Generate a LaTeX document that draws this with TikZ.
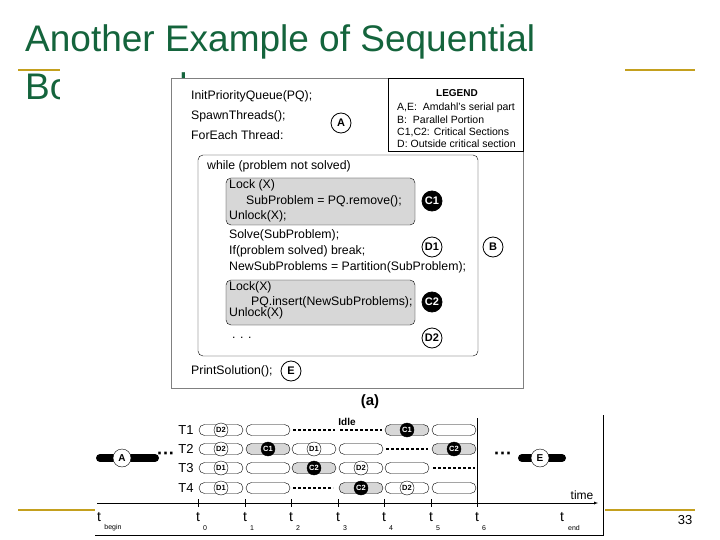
\documentclass[tikz,border=0pt]{standalone}
\usepackage{fontspec}
\setmainfont{Liberation Sans}
\definecolor{ttl}{RGB}{20,100,60}
\definecolor{gold}{RGB}{196,160,30}
\definecolor{sgray}{RGB}{215,215,215}
\begin{document}
\begin{tikzpicture}[x=1pt,y=-1pt,
  code/.style={anchor=west,inner sep=0pt,font=\fontsize{12.3}{12}\selectfont},
  leg/.style={anchor=west,inner sep=0pt,font=\fontsize{10.5}{10}\selectfont},
  lbl/.style={circle,draw,thick,minimum size=20pt,inner sep=0pt,font=\bfseries\fontsize{11}{11}\selectfont},
  blk/.style={lbl,fill=black,text=white},
  seg/.style={draw,rounded corners=5.5pt,minimum height=11pt,minimum width=44pt,inner sep=0pt},
  gseg/.style={seg,fill=sgray},
  sc/.style={circle,draw,fill=white,minimum size=14pt,inner sep=0pt,font=\bfseries\fontsize{7.5}{7}\selectfont},
  sb/.style={sc,fill=black,text=white},
  dsh/.style={line width=2pt,dash pattern=on 3pt off 2pt},
  gl/.style={gold,line width=2.5pt},
  tk/.style={inner sep=0pt,font=\fontsize{14}{14}\selectfont}]
\useasboundingbox (0,0) rectangle (720,540);
\fill[white] (0,0) rectangle (720,540);
% title
\node[anchor=base west,inner sep=0pt,text=ttl,font=\fontsize{37}{37}\selectfont] (title2) at (25,100) {Bottleneck};
\fill[white] (60,55) rectangle (171,115);
\node[anchor=base west,inner sep=0pt,text=ttl,font=\fontsize{37}{37}\selectfont] (title) at (25,52) {Another Example of Sequential};
\draw[gl] (18,70) -- (60,70);
\draw[gl] (625,70) -- (695,70);
\draw[gl] (18,510) -- (95,510);
\draw[gl] (605,510) -- (695,510);
\node[font=\fontsize{13}{13}\selectfont] (pg) at (685,520) {33};
% top picture
\fill[white] (171,78) rectangle (523,388);
\draw[gray] (171,78) rectangle (523,388);
\draw (388,78) rectangle (523,151);
\node[font=\bfseries\fontsize{10}{10}\selectfont] (legend) at (457,93) {LEGEND};
\node[leg] (l1) at (397,108) {A,E:\ \ Amdahl's serial part};
\node[leg] (l2) at (397,120) {B:\ \ Parallel Portion};
\node[leg] (l3) at (397,132) {C1,C2: Critical Sections};
\node[leg] (l4) at (397,144) {D: Outside critical section};
\node[code] (c1) at (191,96) {InitPriorityQueue(PQ);};
\node[code] (c2) at (191,116) {SpawnThreads();};
\node[code] (c3) at (191,135) {ForEach Thread:};
\node[lbl] (A) at (341,123) {A};
\draw[rounded corners=5pt] (198,155) rectangle (478,356);
\node[code] (w) at (207,166) {while (problem not solved)};
\draw[fill=sgray,rounded corners=5pt] (226,178) rectangle (415,225);
\draw[fill=sgray,rounded corners=5pt] (226,280) rectangle (415,325);
\node[code] (k1) at (229,185) {Lock (X)};
\node[code] (k2) at (246,201) {SubProblem = PQ.remove();};
\node[code] (k3) at (229,216) {Unlock(X);};
\node[blk] (C1) at (432,201) {C1};
\node[code] (s1) at (229,235) {Solve(SubProblem);};
\node[code] (s2) at (229,251) {If(problem solved) break;};
\node[code] (s3) at (229,267) {NewSubProblems = Partition(SubProblem);};
\node[lbl] (D1) at (432,247) {D1};
\node[lbl] (B) at (493,247) {B};
\node[code] (m1) at (229,287) {Lock(X)};
\node[code] (m2) at (251,302) {PQ.insert(NewSubProblems);};
\node[code] (m3) at (229,313) {Unlock(X)};
\node[blk] (C2) at (432,302) {C2};
\node[lbl] (D2) at (432,338) {D2};
\node[code] (dots) at (232,338) {. . .};
\node[code] (ps) at (191,371) {PrintSolution();};
\node[lbl] (E) at (291,371) {E};
\node[font=\bfseries\fontsize{15}{15}\selectfont] (a) at (370,402) {(a)};
% timeline
\draw (603,415) -- (603,535) -- (95,535);
\draw[-latex] (97,503) -- (598,503);
\node[font=\fontsize{12}{12}\selectfont] (time) at (582,495) {time};
\foreach \i/\x in {0/198,1/245,2/291,3/338,4/384,5/431,6/477}{
  \draw (\x,499) -- (\x,507);
  \node[tk] (t\i) at (\x,517) {t};
  \node[tk,font=\fontsize{7}{7}\selectfont] (s\i) at (\x+7,528) {\i};
}
\node[tk] (tb) at (99,517) {t};
\node[tk,font=\fontsize{7}{7}\selectfont] (sb) at (113,528) {begin};
\node[tk] (te) at (562,517) {t};
\node[tk,font=\fontsize{7}{7}\selectfont] (se) at (574,528) {end};
\draw (477,418) -- (477,503);
\node[font=\bfseries\fontsize{10}{10}\selectfont] (idle) at (347,422) {Idle};
\foreach \r/\y/\lab in {1/430/T1,2/449/T2,3/468/T3,4/488/T4}{
  \node[font=\fontsize{13}{13}\selectfont] (T\r) at (186,\y) {\lab};
}
\newcommand{\wseg}[3]{\node[seg] (#3) at (#1,#2) {};}
\newcommand{\gsg}[3]{\node[gseg] (#3) at (#1,#2) {};}
\newcommand{\dsg}[3]{\draw[dsh] (#1-21,#2) -- (#1+21,#2);}
% T1
\wseg{221}{430}{r1a}\node[sc] at (221,430) {D2};
\wseg{268}{430}{r1b}
\dsg{314}{430}{r1c}\dsg{361}{430}{r1d}
\gsg{407}{430}{r1e}\node[sb] at (407,430) {C1};
\wseg{454}{430}{r1f}
% T2
\wseg{221}{449}{r2a}\node[sc] at (221,449) {D2};
\gsg{268}{449}{r2b}\node[sb] at (268,449) {C1};
\wseg{314}{449}{r2c}\node[sc] at (314,449) {D1};
\wseg{361}{449}{r2d}
\dsg{407}{449}{r2e}
\gsg{454}{449}{r2f}\node[sb] at (454,449) {C2};
% T3
\wseg{221}{468}{r3a}\node[sc] at (221,468) {D1};
\wseg{268}{468}{r3b}
\gsg{314}{468}{r3c}\node[sb] at (314,468) {C2};
\wseg{361}{468}{r3d}\node[sc] at (361,468) {D2};
\wseg{407}{468}{r3e}
\dsg{454}{468}{r3f}
% T4
\wseg{221}{488}{r4a}\node[sc] at (221,488) {D1};
\wseg{268}{488}{r4b}
\draw[dsh] (293,488) -- (333,488);
\gsg{361}{488}{r4d}\node[sb] at (361,488) {C2};
\wseg{407}{488}{r4e}\node[sc] at (407,488) {D2};
\wseg{454}{488}{r4f}
% A and E bars
\draw[line width=8pt,line cap=round] (100,458) -- (155,458);
\node[sc,minimum size=18pt,font=\bfseries\fontsize{10}{10}\selectfont] (AA) at (122,458) {A};
\node[font=\bfseries\fontsize{18}{18}\selectfont] (d1) at (166,456) {···};
\draw[line width=8pt,line cap=round] (522,458) -- (562,458);
\node[sc,minimum size=18pt,font=\bfseries\fontsize{10}{10}\selectfont] (EE) at (540,458) {E};
\node[font=\bfseries\fontsize{18}{18}\selectfont] (d2) at (503,456) {···};
\end{tikzpicture}
\end{document}
